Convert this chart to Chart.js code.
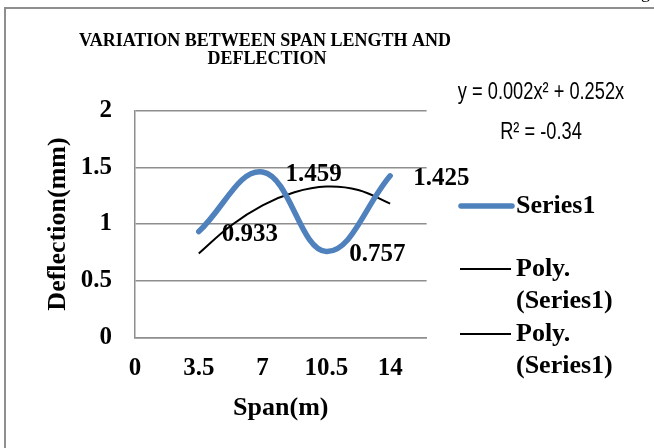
<!DOCTYPE html>
<html><head><meta charset="utf-8">
<script src="https://cdn.jsdelivr.net/npm/chart.js@4/dist/chart.umd.min.js"></script>
<style>html,body{margin:0;padding:0;background:#fff;}#wrap{width:654px;height:448px;position:relative;}</style>
</head><body><div id="wrap"><canvas id="c" width="654" height="448"></canvas></div>
<script>
const titleLines = ['VARIATION BETWEEN SPAN LENGTH AND', 'DEFLECTION'];
const spans = [3.5, 7, 10.5, 14];
const deflections = [0.933, 1.459, 0.757, 1.425];
const trendSpans = [3.5, 5.25, 7, 8.75, 10.5, 12.25, 14];
const trendDeflections = [0.74, 0.985, 1.165, 1.28, 1.33, 1.3, 1.18];
const xTicks = [0, 3.5, 7, 10.5, 14];
const yTicks = [0, 0.5, 1, 1.5, 2];
const seriesLabels = ['Series1', 'Poly. (Series1)', 'Poly. (Series1)'];
const trendEquation = ['y = 0.002x\u00B2 + 0.252x', 'R\u00B2 = -0.34'];
const xTitle = 'Span(m)';
const yTitle = 'Deflection(mm)';

const SERIF = '"Liberation Serif", "Times New Roman", serif';
const GRAY = '#8e8e8e';

const extras = {
  id: 'extras',
  beforeDraw(chart) {
    const ctx = chart.ctx;
    ctx.save();
    ctx.fillStyle = '#fff';
    ctx.fillRect(0, 0, chart.width, chart.height);
    ctx.strokeStyle = GRAY;
    ctx.lineWidth = 2;
    ctx.beginPath();
    ctx.moveTo(654, 8); ctx.lineTo(5, 8); ctx.lineTo(5, 448);
    ctx.stroke();
    ctx.fillStyle = '#000';
    ctx.font = '18px ' + SERIF;
    ctx.textBaseline = 'alphabetic';
    ctx.fillText('g', 641, -2);
    ctx.restore();
  },
  afterDraw(chart) {
    const ctx = chart.ctx;
    ctx.save();
    // title
    ctx.fillStyle = '#000';
    ctx.textAlign = 'center';
    ctx.textBaseline = 'middle';
    ctx.font = 'bold 18px ' + SERIF;
    ctx.fillText(titleLines[0], 265, 41);
    ctx.fillText(titleLines[1], 267, 59);
    // data labels
    const meta = chart.getDatasetMeta(0);
    ctx.font = 'bold 25px ' + SERIF;
    ctx.textAlign = 'left';
    meta.data.forEach((pt, i) => {
      ctx.fillText(String(chart.data.datasets[0].data[i].y), pt.x + 23, pt.y + 3);
    });
    // legend
    const ys = [206, 269, 334];
    chart.data.datasets.forEach((ds, i) => {
      const y = ys[i];
      ctx.strokeStyle = ds.borderColor;
      ctx.lineWidth = ds.borderWidth;
      ctx.lineCap = i === 0 ? 'round' : 'butt';
      ctx.beginPath();
      ctx.moveTo(i === 0 ? 461 : 460, y);
      ctx.lineTo(i === 0 ? 512 : 511, y);
      ctx.stroke();
      ctx.fillStyle = '#000';
      ctx.font = 'bold 26px ' + SERIF;
      ctx.textAlign = 'left';
      ctx.textBaseline = 'middle';
      const parts = ds.label.split(' ');
      parts.forEach((p, k) => ctx.fillText(p, 516, y + k * 32));
    });
    // trendline equation (condensed sans)
    ctx.fillStyle = '#000';
    ctx.font = '24px "Liberation Sans", Arial, sans-serif';
    ctx.textAlign = 'center';
    ctx.textBaseline = 'middle';
    [[trendEquation[0], 92], [trendEquation[1], 132]].forEach(([t, y]) => {
      ctx.save();
      ctx.translate(541, y);
      ctx.scale(0.76, 1);
      ctx.fillText(t, 0, 0);
      ctx.restore();
    });
    ctx.restore();
  }
};

const tickFont = { family: SERIF, size: 25, weight: 'bold' };
const titleFont = { family: SERIF, size: 26, weight: 'bold' };

new Chart(document.getElementById('c'), {
  type: 'scatter',
  data: {
    datasets: [
      {
        label: seriesLabels[0],
        data: spans.map((x, i) => ({ x, y: deflections[i] })),
        showLine: true,
        borderColor: '#4F81BD',
        borderWidth: 5.5,
        borderCapStyle: 'round',
        tension: 0.4,
        pointRadius: 0,
        fill: false
      },
      {
        label: seriesLabels[1],
        data: trendSpans.map((x, i) => ({ x, y: trendDeflections[i] })),
        showLine: true,
        borderColor: '#000000',
        borderWidth: 2,
        tension: 0.4,
        pointRadius: 0,
        fill: false
      },
      {
        label: seriesLabels[2],
        data: [],
        showLine: true,
        borderColor: '#000000',
        borderWidth: 2,
        pointRadius: 0
      }
    ]
  },
  options: {
    responsive: false,
    animation: false,
    devicePixelRatio: 1,
    layout: { padding: { left: 0, top: 110.7, right: 227.4, bottom: 0 } },
    plugins: { legend: { display: false }, title: { display: false }, tooltip: { enabled: false } },
    scales: {
      x: {
        type: 'linear', min: 0, max: 16, position: 'bottom',
        afterBuildTicks: s => { s.ticks = xTicks.map(v => ({ value: v })); },
        afterFit: s => { s.height = 110.7; },
        grid: { display: false, drawTicks: false },
        border: { display: true, color: GRAY, width: 1.5 },
        ticks: { padding: 16.5, font: tickFont, color: '#000', autoSkip: false, maxRotation: 0, callback: v => String(v) },
        title: { display: true, text: xTitle, font: titleFont, color: '#000', padding: { top: 0, bottom: 24.4 } }
      },
      y: {
        type: 'linear', min: 0, max: 2, position: 'left',
        afterBuildTicks: s => { s.ticks = yTicks.map(v => ({ value: v })); },
        afterFit: s => { s.width = 135; },
        grid: { color: GRAY, lineWidth: 1.5, drawTicks: false },
        border: { display: true, color: GRAY, width: 1.5 },
        ticks: { padding: 23, font: tickFont, color: '#000', callback: v => String(v) },
        title: { display: true, text: yTitle, font: titleFont, color: '#000', padding: { top: 42.4, bottom: 0 } }
      }
    }
  },
  plugins: [extras]
});
</script>
</body></html>
